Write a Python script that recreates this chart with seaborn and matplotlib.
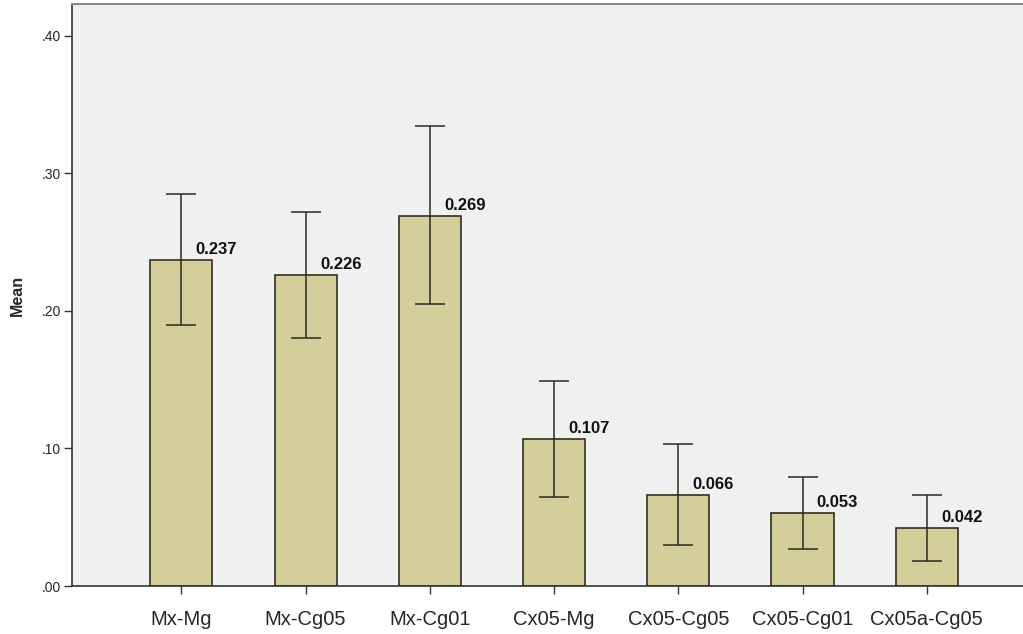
import numpy as np
import seaborn as sns
import matplotlib.pyplot as plt
from matplotlib.ticker import FuncFormatter

# groups and means
groups = ["Mx-Mg", "Mx-Cg05", "Mx-Cg01", "Cx05-Mg", "Cx05-Cg05", "Cx05-Cg01", "Cx05a-Cg05"]
means = [0.237, 0.226, 0.269, 0.107, 0.066, 0.053, 0.042]
# error bar ends (lower / upper)
err_low = [0.190, 0.180, 0.205, 0.065, 0.030, 0.027, 0.018]
err_high = [0.285, 0.272, 0.334, 0.149, 0.103, 0.079, 0.066]

sns.set_style("ticks")
plt.rcParams["font.family"] = ["Liberation Sans", "DejaVu Sans"]

fig = plt.figure(figsize=(10.23, 6.34), dpi=100)
ax = fig.add_axes([0.0704, 0.0757, 0.94, 0.918])
ax.set_facecolor("#f0f0f0")

sns.barplot(x=groups, y=means, color="#d3ce9a", edgecolor="#33301f",
            linewidth=1.2, width=0.5, saturation=1, errorbar=None, ax=ax)

m = np.array(means)
yerr = [m - np.array(err_low), np.array(err_high) - m]
ax.errorbar(np.arange(len(groups)), m, yerr=yerr, fmt="none", ecolor="#2a2a20",
            elinewidth=1.1, capsize=11, capthick=1.1)

for i, v in enumerate(means):
    ax.text(i + 0.115, v + 0.002, f"{v:.3f}", fontsize=12, fontweight="bold",
            ha="left", va="bottom", color="#111111")

ax.set_ylim(0, 0.423)
ax.set_xlim(-0.88, 6.86)
ax.set_yticks([0, 0.1, 0.2, 0.3, 0.4])
ax.yaxis.set_major_formatter(FuncFormatter(lambda v, p: f"{v:.2f}"[1:] if v < 1 else f"{v:.2f}"))
ax.tick_params(axis="y", labelsize=10, length=6, width=1, color="#333333", pad=2)
ax.tick_params(axis="x", labelsize=14.5, length=6, width=1, color="#333333", pad=11)

ax.set_ylabel("Mean", fontsize=11.5, fontweight="bold", labelpad=12)
ax.set_xlabel("")

for s in ["left", "bottom"]:
    ax.spines[s].set_color("#333333")
    ax.spines[s].set_linewidth(1.2)
ax.spines["top"].set_color("#888888")
ax.spines["top"].set_linewidth(1.5)
ax.spines["right"].set_visible(False)

plt.savefig("out.png", dpi=100, facecolor="white")
